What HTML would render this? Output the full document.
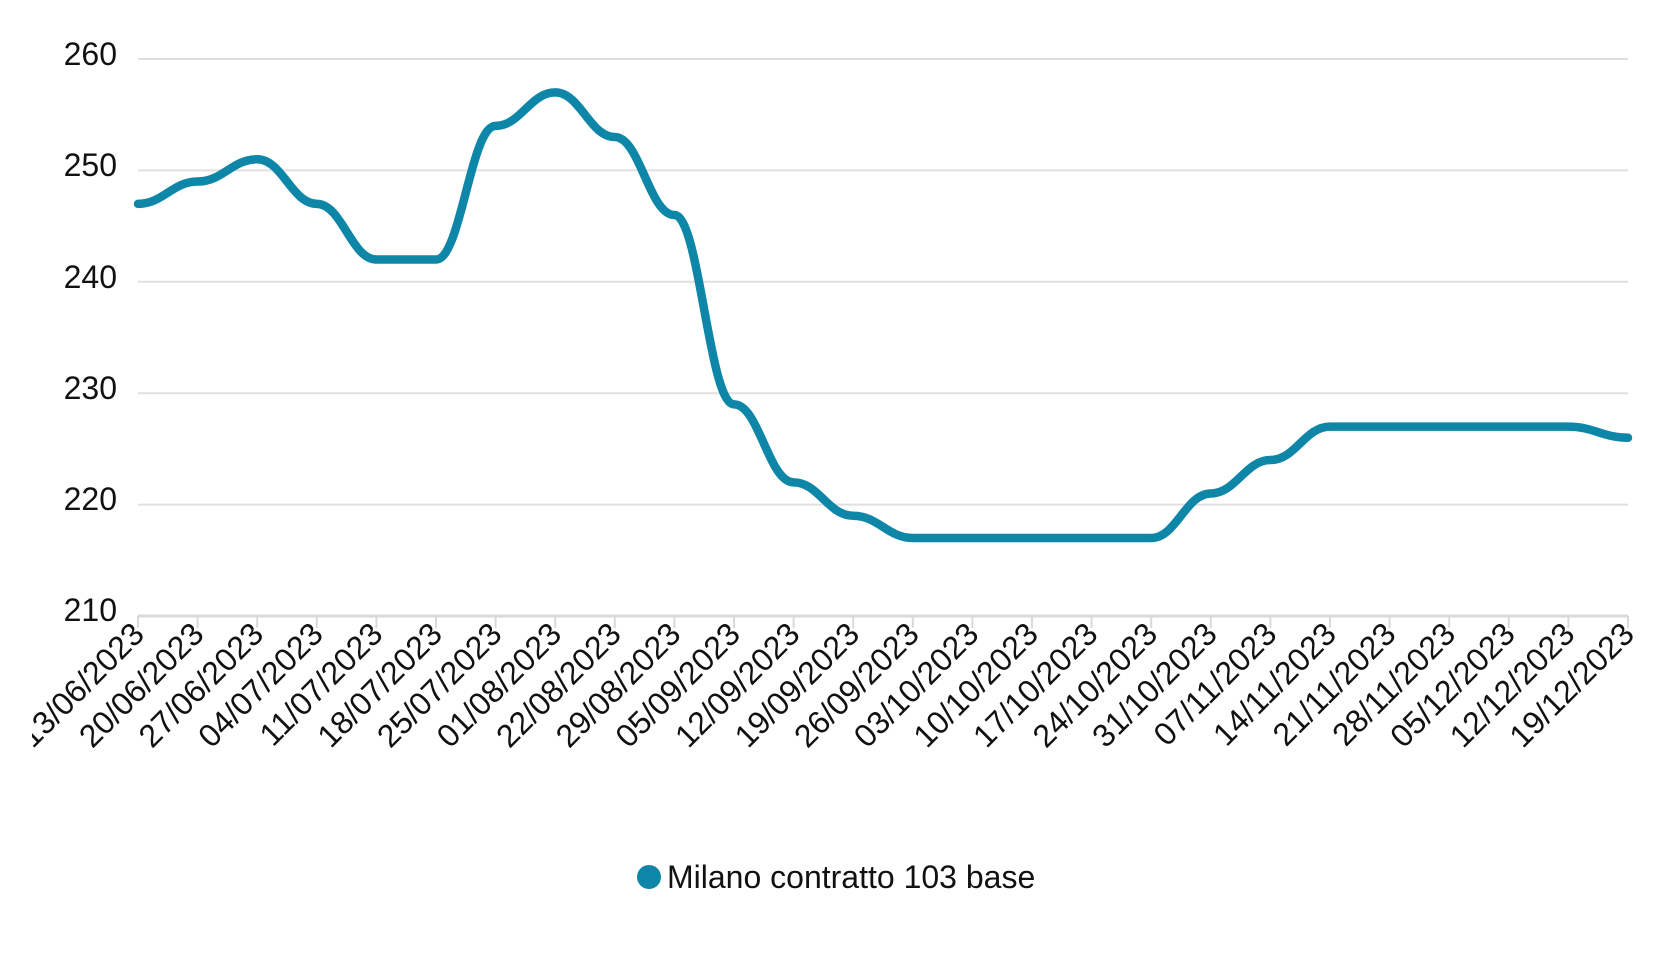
<!DOCTYPE html>
<html><head><meta charset="utf-8"><style>
html,body{margin:0;padding:0;background:#fff;}
svg{display:block;font-family:"Liberation Sans",Arial,sans-serif;}
</style></head><body>
<svg id="c" width="1680" height="960" viewBox="0 0 1680 960" xmlns="http://www.w3.org/2000/svg">
<defs><clipPath id="cl"><rect x="32" y="600" width="1648" height="200"/></clipPath></defs>
<g stroke="#e0e0e0" stroke-width="2">
<line x1="138" y1="59" x2="1628" y2="59"/>
<line x1="138" y1="170.4" x2="1628" y2="170.4"/>
<line x1="138" y1="281.8" x2="1628" y2="281.8"/>
<line x1="138" y1="393.2" x2="1628" y2="393.2"/>
<line x1="138" y1="504.6" x2="1628" y2="504.6"/>
</g>
<line x1="138" y1="616" x2="1628" y2="616" stroke="#d9d9d9" stroke-width="3"/>
<g font-size="32" fill="#111" text-anchor="end">
<text x="117" y="65">260</text>
<text x="117" y="176">250</text>
<text x="117" y="288">240</text>
<text x="117" y="399">230</text>
<text x="117" y="510">220</text>
<text x="117" y="621">210</text>
</g>
<g id="ticks" stroke="#d9d9d9" stroke-width="2"></g>
<g id="xl" font-size="32" fill="#111" text-anchor="end" clip-path="url(#cl)"></g>
<path id="line" fill="none" stroke="#0e86a8" stroke-width="8.5" stroke-linejoin="round" stroke-linecap="round"/>
<circle cx="649" cy="877" r="12" fill="#0e86a8"/>
<text x="667" y="888" font-size="32" fill="#111">Milano contratto 103 base</text>
</svg>
<script>
var labels=["13/06/2023","20/06/2023","27/06/2023","04/07/2023","11/07/2023","18/07/2023","25/07/2023","01/08/2023","22/08/2023","29/08/2023","05/09/2023","12/09/2023","19/09/2023","26/09/2023","03/10/2023","10/10/2023","17/10/2023","24/10/2023","31/10/2023","07/11/2023","14/11/2023","21/11/2023","28/11/2023","05/12/2023","12/12/2023","19/12/2023"];
var vals=[247,249,251,247,242,242,254,257,253,246,229,222,219,217,217,217,217,217,221,224,227,227,227,227,227,226];
var ns="http://www.w3.org/2000/svg",x0=138,dx=1490/25;
function X(i){return x0+i*dx;} function Y(v){return 616-(v-210)*11.14;}
var tg=document.getElementById("ticks"),xl=document.getElementById("xl");
for(var i=0;i<26;i++){var x=X(i);
var l=document.createElementNS(ns,"line");l.setAttribute("x1",x);l.setAttribute("x2",x);l.setAttribute("y1",616);l.setAttribute("y2",628);tg.appendChild(l);
var t=document.createElementNS(ns,"text");t.setAttribute("transform","translate("+(x+8)+",636) rotate(-45)");t.textContent=labels[i];xl.appendChild(t);}
var n=vals.length,d="M"+X(0)+","+Y(vals[0]);
for(i=0;i<n-1;i++){var a=X(i),b=X(i+1),h=dx*0.42;d+=" C"+(a+h)+","+Y(vals[i])+" "+(b-h)+","+Y(vals[i+1])+" "+b+","+Y(vals[i+1]);}
document.getElementById("line").setAttribute("d",d);
</script>
</body></html>
